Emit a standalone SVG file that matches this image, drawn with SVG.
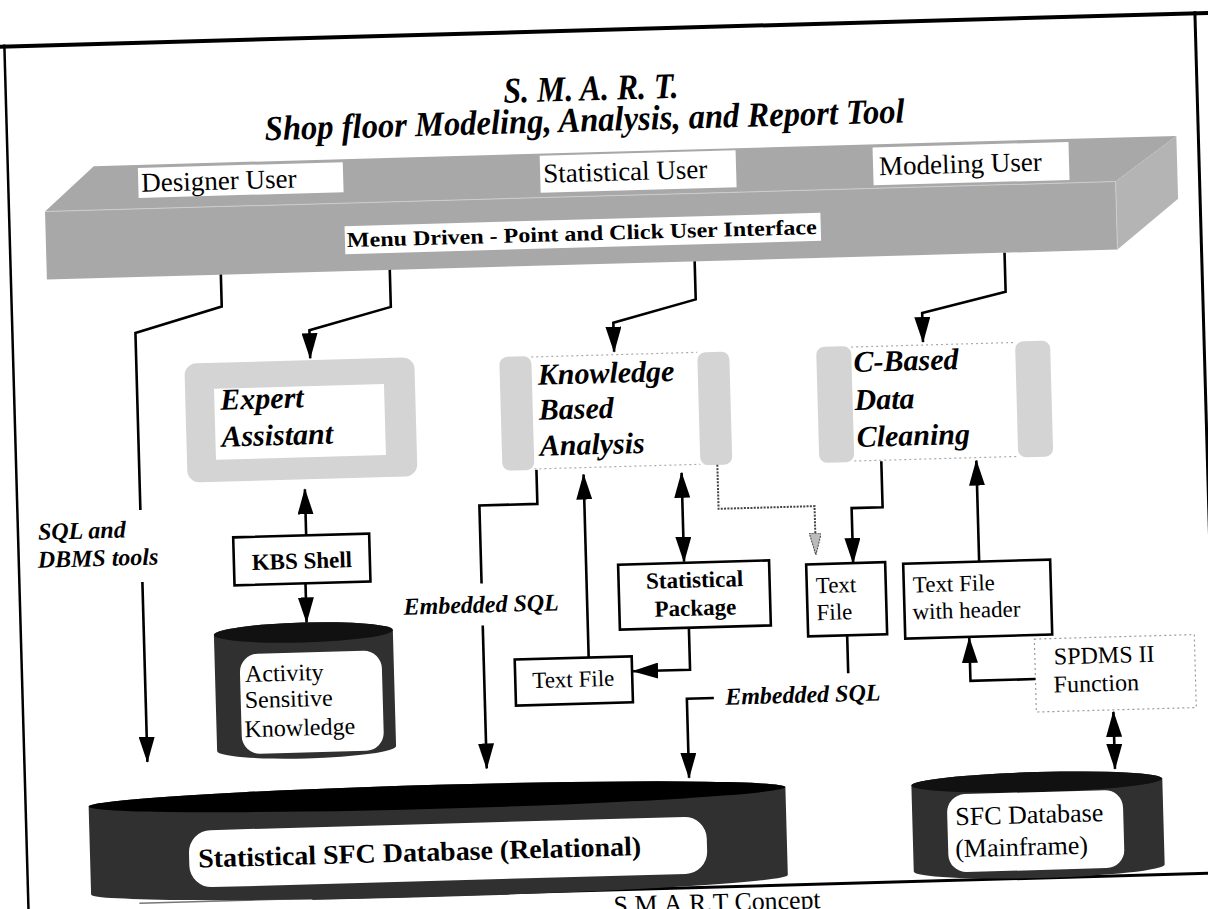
<svg xmlns="http://www.w3.org/2000/svg" width="1208" height="909" viewBox="0 0 1208 909">
<defs>
<style>
.ln{fill:none;stroke:#000;stroke-width:2.6}
.dl{fill:none;stroke:#444;stroke-width:2;stroke-dasharray:2 1.3}
.bx{fill:#fff;stroke:#000;stroke-width:2.6}
.dot{fill:#fff;stroke:#999;stroke-width:1.2;stroke-dasharray:2 3}
.dotl{fill:none;stroke:#aaa;stroke-width:1.2;stroke-dasharray:2 3}
.shade{fill:#d4d4d4}
.bar{fill:#a8a8a8}
.barside{fill:#b4b4b4}
.cyl{fill:#303030}
.lab{fill:#fff}
.t{font-family:"Liberation Serif","Times New Roman",serif;fill:#000}
.bi{font-weight:bold;font-style:italic}
.b{font-weight:bold}
</style>
<marker id="ah" viewBox="0 0 26 16" refX="25" refY="8" markerWidth="26" markerHeight="16" markerUnits="userSpaceOnUse" orient="auto-start-reverse"><path d="M0,0 L26,8 L0,16 Z" fill="#000"/></marker>
<marker id="ahh" viewBox="0 0 22 12" refX="21" refY="6" markerWidth="22" markerHeight="12" markerUnits="userSpaceOnUse" orient="auto"><path d="M0,0 L22,6 L0,12 Z" fill="#bbb" stroke="#444" stroke-width="1" stroke-dasharray="2 1"/></marker>
</defs>
<rect x="0" y="0" width="1208" height="909" fill="#fff"/>
<g transform="rotate(-1.6 604 454)">
  <g id="frame">
    <line x1="-60" y1="30" x2="1260" y2="30" stroke="#000" stroke-width="4"/>
    <line x1="16" y1="28" x2="16" y2="960" stroke="#000" stroke-width="2.5"/>
    <line x1="1207" y1="28" x2="1207" y2="892" stroke="#000" stroke-width="3"/>
    <line x1="127" y1="890" x2="300" y2="890" stroke="#777" stroke-width="1.5"/>
    <line x1="300" y1="890" x2="1300" y2="890" stroke="#000" stroke-width="3"/>
    <text class="t" x="601" y="914" font-size="26" textLength="207" lengthAdjust="spacingAndGlyphs">S.M.A.R.T Concept</text>
  </g>
  <g id="title">
    <text class="t bi" x="601" y="100" font-size="36" text-anchor="middle" textLength="175" lengthAdjust="spacingAndGlyphs">S. M. A. R. T.</text>
    <text class="t bi" x="594" y="131" font-size="35" text-anchor="middle" textLength="640" lengthAdjust="spacingAndGlyphs">Shop floor Modeling, Analysis, and Report Tool</text>
  </g>
  <g id="ui-bar">
    <polygon class="bar" points="102,152 1185,152 1123,196 52,196"/>
    <polygon class="bar" points="52,196 1123,196 1123,264 52,264"/>
    <polygon class="barside" points="1123,196 1185,152 1185,215 1123,264"/>
    <line x1="52" y1="196" x2="1123" y2="196" stroke="#ccc" stroke-width="1"/>
    <line x1="1123" y1="196" x2="1123" y2="264" stroke="#ccc" stroke-width="1"/>
    <rect class="lab" x="146" y="155" width="205" height="30"/>
    <text class="t" x="149" y="179" font-size="27">Designer User</text>
    <rect class="lab" x="548" y="154" width="196" height="37"/>
    <text class="t" x="551" y="181" font-size="27">Statistical User</text>
    <rect class="lab" x="881" y="155" width="196" height="38"/>
    <text class="t" x="887" y="183" font-size="27">Modeling User</text>
    <rect class="lab" x="351" y="219" width="476" height="28"/>
    <text class="t b" x="353" y="240" font-size="21" textLength="470" lengthAdjust="spacingAndGlyphs">Menu Driven - Point and Click User Interface</text>
  </g>
  <g id="expert-assistant">
    <rect class="shade" x="187" y="352" width="230" height="119" rx="12"/>
    <rect fill="#fff" x="216" y="378" width="170" height="71"/>
    <text class="t bi" x="222" y="399" font-size="30">Expert</text>
    <text class="t bi" x="222" y="436" font-size="30">Assistant</text>
  </g>
  <g id="knowledge-based-analysis">
    <rect class="shade" x="502" y="354" width="32" height="114" rx="8"/>
    <rect class="shade" x="700" y="355" width="32" height="113" rx="8"/>
    <line class="dotl" x1="534" y1="355" x2="700" y2="355"/>
    <line class="dotl" x1="534" y1="467" x2="700" y2="467"/>
    <text class="t bi" x="540" y="383" font-size="30">Knowledge</text>
    <text class="t bi" x="540" y="418" font-size="30">Based</text>
    <text class="t bi" x="540" y="454" font-size="30">Analysis</text>
  </g>
  <g id="c-based-data-cleaning">
    <rect class="shade" x="819" y="353" width="35" height="116" rx="8"/>
    <rect class="shade" x="1018" y="353" width="35" height="116" rx="8"/>
    <line class="dotl" x1="854" y1="354" x2="1018" y2="354"/>
    <line class="dotl" x1="854" y1="468" x2="1018" y2="468"/>
    <text class="t bi" x="856" y="379" font-size="30">C-Based</text>
    <text class="t bi" x="856" y="417" font-size="30">Data</text>
    <text class="t bi" x="857" y="454" font-size="30">Cleaning</text>
  </g>
  <g id="kbs-shell">
    <rect class="bx" x="231" y="527" width="136" height="48"/>
    <text class="t b" x="299" y="560" font-size="23" text-anchor="middle">KBS Shell</text>
  </g>
  <g id="activity-sensitive-knowledge">
    <path class="cyl" d="M209,624 A89.5,10 0 0 1 388,624 V740 A89.5,10 0 0 1 209,740 Z"/>
    <ellipse cx="298.5" cy="624" rx="89.5" ry="10" fill="#111"/>
    <rect fill="#fff" x="234" y="644" width="142" height="100" rx="18"/>
    <text class="t" x="239" y="672" font-size="24">Activity</text>
    <text class="t" x="238" y="698" font-size="24">Sensitive</text>
    <text class="t" x="237" y="727" font-size="24">Knowledge</text>
  </g>
  <g id="statistical-package">
    <rect class="bx" x="615" y="565" width="151" height="65"/>
    <text class="t b" x="691" y="590" font-size="23" text-anchor="middle">Statistical</text>
    <text class="t b" x="691" y="618" font-size="23" text-anchor="middle">Package</text>
  </g>
  <g id="text-file-1">
    <rect class="bx" x="509" y="657" width="117" height="46"/>
    <text class="t" x="567" y="686" font-size="23" text-anchor="middle">Text File</text>
  </g>
  <g id="text-file-2">
    <rect class="bx" x="803" y="570" width="79" height="72"/>
    <text class="t" x="812" y="599" font-size="23">Text</text>
    <text class="t" x="812" y="626" font-size="23">File</text>
  </g>
  <g id="text-file-header">
    <rect class="bx" x="900" y="572" width="147" height="75"/>
    <text class="t" x="909" y="601" font-size="23">Text File</text>
    <text class="t" x="908" y="628" font-size="23">with header</text>
  </g>
  <g id="spdms-function">
    <rect class="dot" x="1029" y="651" width="160" height="73"/>
    <text class="t" x="1048" y="677" font-size="24">SPDMS II</text>
    <text class="t" x="1047" y="705" font-size="24">Function</text>
  </g>
  <g id="statistical-sfc-db">
    <path class="cyl" d="M79,792 A348.5,12 0 0 1 776,792 V880 A348.5,12 0 0 1 79,880 Z"/>
    <ellipse cx="427.5" cy="792" rx="348.5" ry="12" fill="#000"/>
    <rect fill="#fff" x="178" y="819" width="518" height="57" rx="22"/>
    <text class="t b" x="187" y="856" font-size="27" textLength="443" lengthAdjust="spacingAndGlyphs">Statistical SFC Database (Relational)</text>
  </g>
  <g id="sfc-db-mainframe">
    <path class="cyl" d="M902,794 A125.5,10 0 0 1 1153,794 V880 A125.5,10 0 0 1 902,880 Z"/>
    <ellipse cx="1027.5" cy="794" rx="125.5" ry="10" fill="#111"/>
    <rect fill="#fff" x="937" y="804" width="176" height="78" rx="18"/>
    <text class="t" x="945" y="835" font-size="26">SFC Database</text>
    <text class="t" x="944" y="867" font-size="26">(Mainframe)</text>
  </g>
  <g id="connectors">
    <path class="ln" d="M226,264 V296 L139,320 V497"/>
    <path class="ln" d="M139,569 V749" marker-end="url(#ah)"/>
    <text class="t bi" x="36" y="524" font-size="24">SQL and</text>
    <text class="t bi" x="35" y="552" font-size="24">DBMS tools</text>
    <path class="ln" d="M395,264 V301 L313,322 V350" marker-end="url(#ah)"/>
    <path class="ln" d="M700,264 V302 L617,323 V352" marker-end="url(#ah)"/>
    <path class="ln" d="M1010,264 V303 L926,322 V351" marker-end="url(#ah)"/>
    <path class="ln" d="M304,527 V481" marker-end="url(#ah)"/>
    <path class="ln" d="M302,575 V614" marker-end="url(#ah)"/>
    <path class="ln" d="M536,468 V502 H478 V580"/>
    <path class="ln" d="M478,622 V765" marker-end="url(#ah)"/>
    <text class="t bi" x="477" y="609" font-size="24" text-anchor="middle">Embedded SQL</text>
    <path class="ln" d="M583,657 V474" marker-end="url(#ah)"/>
    <path class="ln" d="M681,475 V564" marker-start="url(#ah)" marker-end="url(#ah)"/>
    <path class="ln" d="M684,630 V672 H627" marker-end="url(#ah)"/>
    <path class="dl" d="M717,468 V512 H813 V560" marker-end="url(#ahh)"/>
    <path class="ln" d="M881,469 V515 H850 V570" marker-end="url(#ah)"/>
    <path class="ln" d="M842,642 V680"/>
    <text class="t bi" x="796" y="708" font-size="24" text-anchor="middle">Embedded SQL</text>
    <path class="ln" d="M707,701 H680 V780" marker-end="url(#ah)"/>
    <path class="ln" d="M976,572 V471" marker-end="url(#ah)"/>
    <path class="ln" d="M1029,691 H964 V648" marker-end="url(#ah)"/>
    <path class="ln" d="M1106,726 V783" marker-start="url(#ah)" marker-end="url(#ah)"/>
  </g>
</g>
</svg>
